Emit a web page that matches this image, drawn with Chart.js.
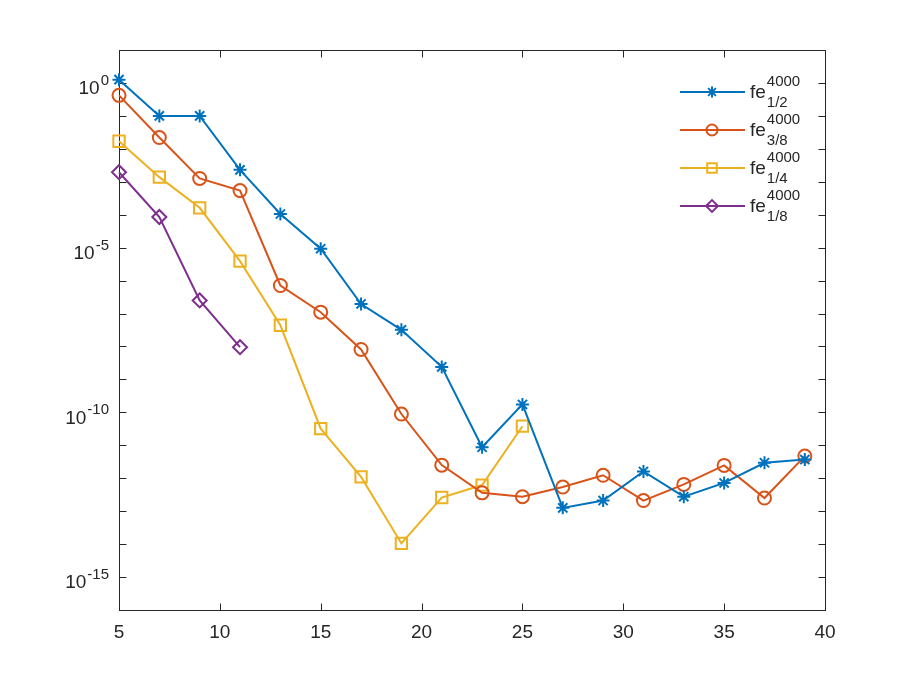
<!DOCTYPE html>
<html>
<head>
<meta charset="utf-8">
<script src="https://cdn.jsdelivr.net/npm/chart.js@4/dist/chart.umd.min.js"></script>
<style>
html, body { margin: 0; padding: 0; background: #fff; }
</style>
</head>
<body>
<canvas id="chart" width="913" height="685"></canvas>
<script>
// data (x = 5,7,...)
var xHalf = [5, 7, 9, 11, 13, 15, 17, 19, 21, 23, 25, 27, 29, 31, 33, 35, 37, 39];
var feHalf = [1.26, 1.0e-1, 1.0e-1, 2.3e-3, 1.05e-4, 9.3e-6, 1.95e-7, 3.2e-8, 2.4e-9, 8.7e-12,
    1.74e-10, 1.26e-13, 2.1e-13, 1.6e-12, 2.75e-13, 7.2e-13, 2.95e-12, 3.7e-12];

var x38 = [5, 7, 9, 11, 13, 15, 17, 19, 21, 23, 25, 27, 29, 31, 33, 35, 37, 39];
var fe38 = [4.2e-1, 2.2e-2, 1.26e-3, 5.4e-4, 7.1e-7, 1.1e-7, 8.1e-9, 8.9e-11, 2.5e-12, 3.6e-13,
    2.75e-13, 5.4e-13, 1.23e-12, 2.1e-13, 6.5e-13, 2.45e-12, 2.5e-13, 4.7e-12];

var xQuarter = [5, 7, 9, 11, 13, 15, 17, 19, 21, 23, 25];
var feQuarter = [1.7e-2, 1.38e-3, 1.62e-4, 3.9e-6, 4.4e-8, 3.2e-11, 1.1e-12, 1.05e-14, 2.6e-13, 6.2e-13, 3.8e-11];

var xEighth = [5, 7, 9, 11];
var feEighth = [1.95e-3, 8.5e-5, 2.5e-7, 9.5e-9];

var seriesSub = ['1/2', '3/8', '1/4', '1/8'];
var seriesColors = ['#0072BD', '#D95319', '#EDB120', '#7E2F8E'];
var seriesMarkers = ['star', 'circle', 'rect', 'rectRot'];
var markerRadius = [6.5, 6.5, 8, 7];

var xTicks = [5, 10, 15, 20, 25, 30, 35, 40];
var yLabelExp = [0, -5, -10, -15];

var FONT = '"Liberation Sans", Arial, Helvetica, sans-serif';
var AXIS_COLOR = '#262626';

function pts(xs, ys) {
    var out = [];
    for (var i = 0; i < xs.length; i++) {
        out.push({ x: xs[i], y: ys[i] });
    }
    return out;
}

function makeSet(i, data) {
    return {
        label: 'fe' + seriesSub[i],
        data: data,
        borderColor: seriesColors[i],
        backgroundColor: 'rgba(0,0,0,0)',
        borderWidth: 2,
        pointStyle: seriesMarkers[i],
        pointRadius: markerRadius[i],
        pointHoverRadius: markerRadius[i],
        pointBorderColor: seriesColors[i],
        pointBackgroundColor: 'rgba(0,0,0,0)',
        pointBorderWidth: 2,
        tension: 0,
        clip: false
    };
}

//Box, ticks inward and tick labels, MATLAB style
var axesPlugin = {
    id: 'matlabAxes',
    beforeDatasetsDraw: function(chart) {
        var ctx = chart.ctx;
        var a = chart.chartArea;
        var xs = chart.scales.x;
        var ys = chart.scales.y;
        var L = Math.round(a.left) + 0.5, R = Math.round(a.right) + 0.5;
        var T = Math.round(a.top) + 0.5, B = Math.round(a.bottom) + 0.5;
        var tl = 7;

        ctx.save();
        ctx.strokeStyle = AXIS_COLOR;
        ctx.lineWidth = 1;
        ctx.strokeRect(L, T, R - L, B - T);

        ctx.beginPath();
        xTicks.forEach(function(v) {
            var px = Math.round(xs.getPixelForValue(v)) + 0.5;
            ctx.moveTo(px, B); ctx.lineTo(px, B - tl);
            ctx.moveTo(px, T); ctx.lineTo(px, T + tl);
        });
        for (var e = 0; e >= -15; e--) {
            var py = Math.round(ys.getPixelForValue(Math.pow(10, e))) + 0.5;
            ctx.moveTo(L, py); ctx.lineTo(L + tl, py);
            ctx.moveTo(R, py); ctx.lineTo(R - tl, py);
        }
        ctx.stroke();

        ctx.fillStyle = AXIS_COLOR;
        //x labels
        ctx.font = '19px ' + FONT;
        ctx.textAlign = 'center';
        ctx.textBaseline = 'middle';
        xTicks.forEach(function(v) {
            ctx.fillText(String(v), xs.getPixelForValue(v), a.bottom + 23);
        });

        //y labels 10^n
        yLabelExp.forEach(function(e) {
            var py = ys.getPixelForValue(Math.pow(10, e));
            var right = a.left - 10;
            ctx.font = '15px ' + FONT;
            var sup = String(e);
            var sw = ctx.measureText(sup).width;
            ctx.textAlign = 'left';
            ctx.textBaseline = 'middle';
            ctx.fillText(sup, right - sw, py - 2);
            ctx.font = '19px ' + FONT;
            ctx.textAlign = 'right';
            ctx.fillText('10', right - sw - 1, py + 6);
        });
        ctx.restore();
    },
    afterDraw: function(chart) {
        //legend, no box
        var ctx = chart.ctx;
        var rows = [92, 130, 168, 206];
        ctx.save();
        chart.data.datasets.forEach(function(ds, i) {
            var y = rows[i];
            ctx.strokeStyle = ds.borderColor;
            ctx.lineWidth = 2;
            ctx.beginPath();
            ctx.moveTo(680, y);
            ctx.lineTo(745, y);
            ctx.stroke();
            ctx.fillStyle = 'rgba(0,0,0,0)';
            Chart.helpers.drawPoint(ctx, {
                pointStyle: ds.pointStyle,
                radius: ds.pointRadius * 0.85,
                borderWidth: 2,
                rotation: 0
            }, 712, y);

            ctx.fillStyle = AXIS_COLOR;
            ctx.textAlign = 'left';
            ctx.textBaseline = 'middle';
            ctx.font = '19px ' + FONT;
            ctx.fillText('fe', 750, y + 1);
            var fw = ctx.measureText('fe').width;
            ctx.font = '15px ' + FONT;
            ctx.fillText('4000', 750 + fw + 1, y - 10);
            ctx.fillText(seriesSub[i], 750 + fw + 1, y + 11);
        });
        ctx.restore();
    }
};

var ctx = document.getElementById('chart').getContext('2d');
var chart = new Chart(ctx, {
    type: 'line',
    data: {
        datasets: [
            makeSet(0, pts(xHalf, feHalf)),
            makeSet(1, pts(x38, fe38)),
            makeSet(2, pts(xQuarter, feQuarter)),
            makeSet(3, pts(xEighth, feEighth))
        ]
    },
    options: {
        responsive: false,
        animation: false,
        layout: { padding: { left: 119, top: 50, right: 88, bottom: 75 } },
        plugins: {
            legend: { display: false },
            tooltip: { enabled: false }
        },
        scales: {
            x: {
                type: 'linear',
                min: 5,
                max: 40,
                ticks: { display: false },
                grid: { display: false },
                border: { display: false },
                afterFit: function(s) { s.height = 0; }
            },
            y: {
                type: 'logarithmic',
                min: 1e-16,
                max: 10,
                ticks: { display: false },
                grid: { display: false },
                border: { display: false },
                afterFit: function(s) { s.width = 0; }
            }
        }
    },
    plugins: [axesPlugin]
});
</script>
</body>
</html>
